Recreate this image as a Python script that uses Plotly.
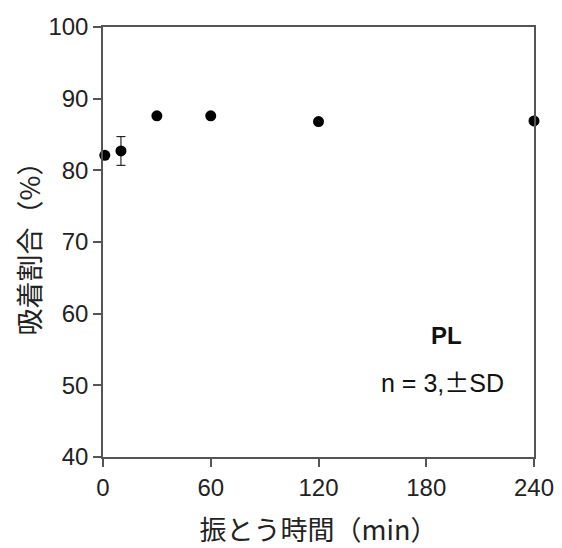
import plotly.graph_objects as go

time_min = [1, 10, 30, 60, 120, 240]
adsorption_pct = [82.1, 82.7, 87.6, 87.6, 86.8, 86.9]
sd_pct = [0.3, 2.0, 0.2, 0.2, 0.2, 0.2]
x_ticks = [0, 60, 120, 180, 240]
y_ticks = [40, 50, 60, 70, 80, 90, 100]

fig = go.Figure()
fig.add_trace(go.Scatter(
    x=time_min, y=adsorption_pct, mode="markers",
    marker=dict(color="black", size=11),
    error_y=dict(type="data", array=sd_pct, color="black", thickness=1, width=4.5),
    cliponaxis=False, showlegend=False,
))

axis_common = dict(
    showline=True, linecolor="#555555", linewidth=1.5, mirror=True,
    ticks="outside", ticklen=8, tickcolor="#555555", tickwidth=1.5,
    showgrid=False, zeroline=False, automargin=False,
    tickfont=dict(family="Liberation Sans, Arial", size=24, color="#222222"),
)
fig.update_xaxes(
    range=[0, 240], tickvals=x_ticks,
    title=dict(text="振とう時間（min）", font=dict(family="Noto Sans CJK JP", size=27, color="#222222"), standoff=22),
    **axis_common,
)
fig.update_yaxes(
    range=[40, 100], tickvals=y_ticks,
    title=dict(text="吸着割合（%）", font=dict(family="Noto Sans CJK JP", size=27, color="#222222"), standoff=0),
    **axis_common,
)
fig.add_annotation(x=191.5, y=57.0, xref="x", yref="y", text="<b>PL</b>", showarrow=False,
                   font=dict(family="Liberation Sans, Arial", size=24, color="#111111"))
fig.add_annotation(x=189, y=50.6, xref="x", yref="y",
                   text="n = 3,<span style='font-family:Noto Sans CJK JP'>±</span>SD", showarrow=False,
                   font=dict(family="Liberation Sans, Arial", size=25, color="#111111"))
fig.update_layout(
    width=562, height=548,
    margin=dict(l=103, r=28, t=27, b=91),
    plot_bgcolor="white", paper_bgcolor="white",
)
fig.write_html("out.html")
